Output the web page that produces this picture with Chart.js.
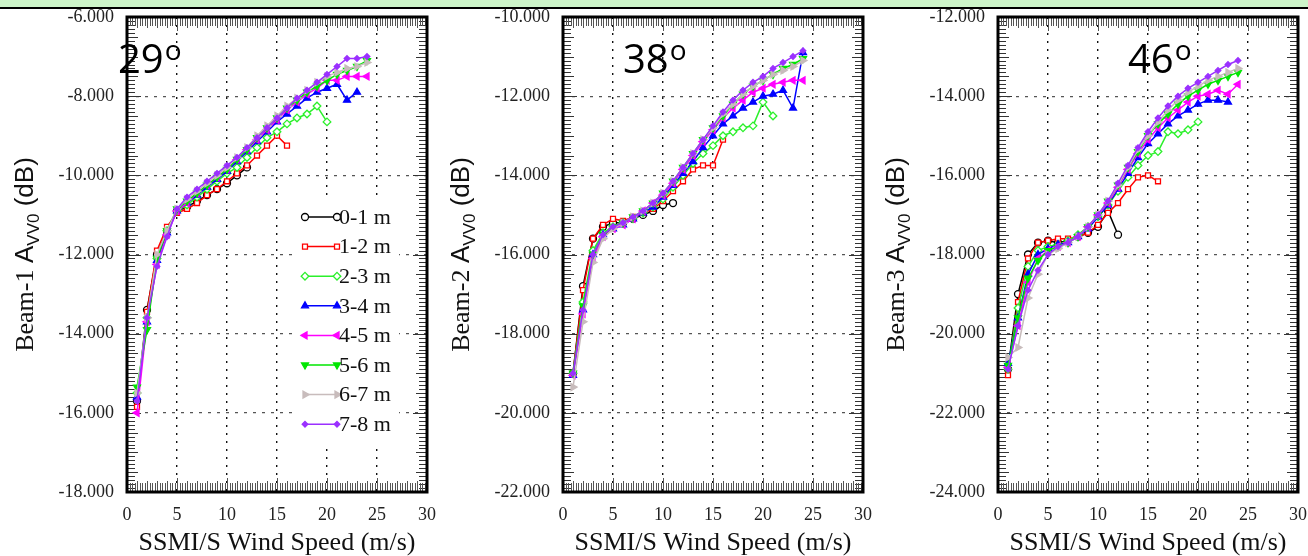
<!DOCTYPE html>
<html><head><meta charset="utf-8">
<script src="https://cdn.jsdelivr.net/npm/chart.js@4.4.1/dist/chart.umd.min.js"></script>
<style>
html,body{margin:0;padding:0;background:#fff;}
body{width:1308px;height:556px;position:relative;overflow:hidden;}
#band{position:absolute;left:0;top:0;width:1308px;height:7px;background:#cdf5c9;border-bottom:2px solid #000;}
.pnl{position:absolute;top:0;width:436px;height:556px;}
</style></head><body>
<div class="pnl" style="left:0px"><canvas id="c1" width="436" height="556"></canvas></div>
<div class="pnl" style="left:436px"><canvas id="c2" width="436" height="556"></canvas></div>
<div class="pnl" style="left:871px"><canvas id="c3" width="436" height="556"></canvas></div>
<div id="band"></div>
<script>
// ---------- data ----------
const windSpeed = [1,2,3,4,5,6,7,8,9,10,11,12,13,14,15,16,17,18,19,20,21,22,23,24];
const heightBins = ['0-1 m','1-2 m','2-3 m','3-4 m','4-5 m','5-6 m','6-7 m','7-8 m'];
const xTickValues = [0,5,10,15,20,25,30];
const beam1Ticks = [-18,-16,-14,-12,-10,-8,-6];
const beam2Ticks = [-22,-20,-18,-16,-14,-12,-10];
const beam3Ticks = [-24,-22,-20,-18,-16,-14,-12];

// Beam-1 (29 deg)
const b1_h01 = [-15.7,-13.4,-12.0,-11.4,-10.9,-10.8,-10.65,-10.5,-10.35,-10.2,-10.0,-9.8];
const b1_h12 = [-15.85,-13.45,-11.9,-11.3,-10.95,-10.85,-10.7,-10.5,-10.35,-10.15,-9.95,-9.75,-9.5,-9.25,-9.0,-9.25];
const b1_h23 = [-15.5,-13.6,-12.1,-11.4,-10.9,-10.75,-10.55,-10.35,-10.15,-9.95,-9.8,-9.55,-9.3,-9.05,-8.9,-8.7,-8.55,-8.45,-8.25,-8.65];
const b1_h34 = [-15.6,-13.7,-12.15,-11.45,-10.9,-10.7,-10.5,-10.3,-10.1,-9.9,-9.65,-9.4,-9.15,-8.9,-8.65,-8.45,-8.25,-8.05,-7.9,-7.8,-7.7,-8.1,-7.9];
const b1_h45 = [-16.0,-13.7,-12.25,-11.5,-10.9,-10.7,-10.45,-10.25,-10.05,-9.85,-9.6,-9.35,-9.1,-8.85,-8.6,-8.35,-8.15,-7.95,-7.8,-7.6,-7.6,-7.5,-7.5,-7.5];
const b1_h56 = [-15.35,-13.9,-12.1,-11.4,-10.85,-10.65,-10.45,-10.25,-10.05,-9.85,-9.6,-9.35,-9.05,-8.8,-8.55,-8.3,-8.1,-7.9,-7.75,-7.6,-7.45,-7.35,-7.25,-7.1];
const b1_h67 = [-15.5,-13.6,-12.0,-11.4,-10.85,-10.6,-10.4,-10.2,-10.0,-9.8,-9.55,-9.3,-9.0,-8.75,-8.5,-8.25,-8.05,-7.85,-7.65,-7.5,-7.4,-7.3,-7.25,-7.15];
const b1_h78 = [-15.7,-13.6,-12.3,-11.55,-10.85,-10.55,-10.35,-10.15,-9.95,-9.75,-9.55,-9.3,-9.05,-8.8,-8.55,-8.3,-8.05,-7.85,-7.65,-7.45,-7.25,-7.05,-7.05,-7.0];

// Beam-2 (38 deg)
const b2_h01 = [-19.0,-16.8,-15.6,-15.3,-15.2,-15.2,-15.1,-15.0,-14.9,-14.75,-14.7];
const b2_h12 = [-19.0,-16.9,-15.6,-15.25,-15.1,-15.15,-15.05,-14.95,-14.85,-14.65,-14.4,-14.15,-13.85,-13.75,-13.75,-13.1];
const b2_h23 = [-19.0,-17.2,-15.9,-15.45,-15.3,-15.2,-15.1,-14.95,-14.8,-14.6,-14.3,-14.0,-13.7,-13.45,-13.25,-13.0,-12.9,-12.8,-12.75,-12.15,-12.5];
const b2_h34 = [-19.05,-17.4,-16.0,-15.5,-15.35,-15.25,-15.1,-14.95,-14.8,-14.55,-14.25,-13.95,-13.65,-13.3,-13.0,-12.7,-12.5,-12.3,-12.15,-12.0,-11.95,-11.85,-12.3,-10.9];
const b2_h45 = [-19.05,-17.5,-16.1,-15.55,-15.35,-15.25,-15.1,-14.9,-14.7,-14.5,-14.2,-13.85,-13.5,-13.15,-12.85,-12.55,-12.3,-12.1,-11.9,-11.8,-11.7,-11.65,-11.6,-11.6];
const b2_h56 = [-19.0,-17.3,-16.0,-15.5,-15.3,-15.2,-15.05,-14.9,-14.7,-14.45,-14.15,-13.8,-13.45,-13.1,-12.8,-12.5,-12.2,-11.95,-11.75,-11.6,-11.45,-11.3,-11.2,-11.05];
const b2_h67 = [-19.35,-17.7,-16.2,-15.6,-15.35,-15.2,-15.05,-14.9,-14.7,-14.45,-14.15,-13.8,-13.45,-13.1,-12.8,-12.45,-12.2,-11.95,-11.75,-11.6,-11.45,-11.35,-11.25,-11.1];
const b2_h78 = [-19.0,-17.4,-16.0,-15.5,-15.3,-15.2,-15.05,-14.9,-14.7,-14.45,-14.15,-13.8,-13.45,-13.1,-12.75,-12.4,-12.1,-11.85,-11.65,-11.5,-11.3,-11.15,-11.0,-10.85];

// Beam-3 (46 deg)
const b3_h01 = [-20.9,-19.0,-18.0,-17.7,-17.65,-17.7,-17.65,-17.55,-17.45,-17.3,-16.9,-17.5];
const b3_h12 = [-21.05,-19.2,-18.1,-17.7,-17.65,-17.6,-17.6,-17.55,-17.45,-17.25,-16.95,-16.7,-16.35,-16.05,-16.0,-16.15];
const b3_h23 = [-20.9,-19.35,-18.3,-17.9,-17.8,-17.75,-17.65,-17.5,-17.3,-17.05,-16.75,-16.4,-16.05,-15.75,-15.5,-15.4,-14.9,-14.95,-14.85,-14.65];
const b3_h34 = [-20.75,-19.6,-18.5,-18.0,-17.85,-17.75,-17.7,-17.55,-17.35,-17.05,-16.75,-16.35,-15.95,-15.55,-15.2,-14.95,-14.7,-14.5,-14.35,-14.2,-14.1,-14.1,-14.15];
const b3_h45 = [-20.85,-19.8,-18.7,-18.1,-17.9,-17.8,-17.7,-17.55,-17.3,-17.0,-16.7,-16.3,-15.85,-15.45,-15.1,-14.8,-14.55,-14.35,-14.15,-14.0,-13.95,-13.85,-13.95,-13.7];
const b3_h56 = [-20.8,-19.6,-18.6,-18.15,-17.9,-17.8,-17.7,-17.55,-17.3,-17.0,-16.65,-16.25,-15.8,-15.4,-15.0,-14.7,-14.45,-14.2,-14.0,-13.85,-13.7,-13.6,-13.5,-13.4];
const b3_h67 = [-20.6,-20.35,-19.1,-18.5,-18.0,-17.85,-17.7,-17.55,-17.3,-17.0,-16.65,-16.25,-15.8,-15.35,-15.0,-14.65,-14.35,-14.1,-13.9,-13.75,-13.6,-13.5,-13.4,-13.3];
const b3_h78 = [-20.9,-19.8,-18.9,-18.4,-18.0,-17.8,-17.7,-17.55,-17.3,-17.0,-16.65,-16.2,-15.75,-15.3,-14.9,-14.55,-14.25,-14.0,-13.8,-13.65,-13.5,-13.35,-13.2,-13.1];

// ---------- styles ----------
const seriesStyles = [
  {color:'#000000', fill:'#ffffff', style:'circle',   rot:0,   r:3.5},
  {color:'#ff0000', fill:'#ffffff', style:'rect',     rot:0,   r:3.5},
  {color:'#2bf02b', fill:'#ffffff', style:'rectRot',  rot:0,   r:3.8},
  {color:'#0000ff', fill:'#0000ff', style:'triangle', rot:0,   r:4},
  {color:'#ff00ff', fill:'#ff00ff', style:'triangle', rot:-90, r:4},
  {color:'#00e600', fill:'#00e600', style:'triangle', rot:180, r:4},
  {color:'#c8bcbc', fill:'#c8bcbc', style:'triangle', rot:90,  r:4},
  {color:'#9b30ff', fill:'#9b30ff', style:'rectRot',  rot:0,   r:2.8}
];

const panels = [
  {id:'c1', angle:'29', beam:'Beam-1', ticks:beam1Ticks, legend:true,
   series:[b1_h01,b1_h12,b1_h23,b1_h34,b1_h45,b1_h56,b1_h67,b1_h78], angleX:118},
  {id:'c2', angle:'38', beam:'Beam-2', ticks:beam2Ticks, legend:false,
   series:[b2_h01,b2_h12,b2_h23,b2_h34,b2_h45,b2_h56,b2_h67,b2_h78], angleX:187},
  {id:'c3', angle:'46', beam:'Beam-3', ticks:beam3Ticks, legend:false,
   series:[b3_h01,b3_h12,b3_h23,b3_h34,b3_h45,b3_h56,b3_h67,b3_h78], angleX:257}
];

function drawMarker(ctx, st, x, y){
  ctx.save();
  ctx.fillStyle = st.fill; ctx.strokeStyle = st.color; ctx.lineWidth = 1.3;
  Chart.helpers.drawPoint(ctx, {pointStyle:st.style, rotation:st.rot, radius:st.r, borderWidth:1.3}, x, y);
  ctx.restore();
}

const decor = {
  id:'decor',
  beforeDatasetsDraw(chart, args, o){
    const ctx = chart.ctx, a = chart.chartArea;
    const xs = chart.scales.x, ys = chart.scales.y;
    ctx.save();
    ctx.strokeStyle = '#333'; ctx.lineWidth = 1;
    const ymin = ys.min, ymax = ys.max;
    for (let k = 0; k <= Math.round((ymax-ymin)*10); k++){
      const v = ymin + k/10, py = Math.round(ys.getPixelForValue(v)) + 0.5;
      let len = 8;
      if (k % 5 === 0) len = 11;
      if (k % 20 === 0) len = 14;
      ctx.beginPath();
      ctx.moveTo(a.left, py); ctx.lineTo(a.left+len, py);
      ctx.moveTo(a.right, py); ctx.lineTo(a.right-len, py);
      ctx.stroke();
    }
    ctx.strokeStyle = '#555';
    for (let k = 0; k <= 120; k++){
      const v = k*0.25, px = Math.round(xs.getPixelForValue(v)) + 0.5;
      let len = 9;
      if (k % 4 === 0) len = 11;
      if (k % 20 === 0) len = 14;
      ctx.beginPath();
      ctx.moveTo(px, a.bottom); ctx.lineTo(px, a.bottom-len);
      ctx.moveTo(px, a.top); ctx.lineTo(px, a.top+len);
      ctx.stroke();
    }
    if (o.legend){
      ctx.fillStyle = '#fff';
      ctx.fillRect(293, 196, 106, 250);
      ctx.font = '22px "Liberation Serif"';
      ctx.textBaseline = 'middle'; ctx.textAlign = 'left';
      heightBins.forEach((lab, i) => {
        const st = seriesStyles[i], y = 217 + 29.6*i;
        ctx.strokeStyle = st.color; ctx.lineWidth = 1.5;
        ctx.beginPath(); ctx.moveTo(305, y); ctx.lineTo(338, y); ctx.stroke();
        drawMarker(ctx, st, 305, y); drawMarker(ctx, st, 337, y);
        ctx.fillStyle = '#111';
        ctx.fillText(lab, 339, y+1);
      });
    }
    ctx.restore();
  },
  afterDatasetsDraw(chart, args, o){
    const ctx = chart.ctx, a = chart.chartArea;
    ctx.save();
    ctx.strokeStyle = '#000'; ctx.lineWidth = 3;
    ctx.strokeRect(a.left, a.top, a.right-a.left, a.bottom-a.top);
    ctx.restore();
  },
  afterDraw(chart, args, o){
    const ctx = chart.ctx, a = chart.chartArea;
    ctx.save();
    ctx.fillStyle = '#111';
    ctx.font = '26px "Liberation Serif"';
    ctx.textAlign = 'center'; ctx.textBaseline = 'alphabetic';
    ctx.fillText('SSMI/S Wind Speed (m/s)', (a.left+a.right)/2, 550);
    const segs = [
      {t:o.beam+' ', f:'26px "Liberation Serif"', dy:0},
      {t:'A', f:'26px "Liberation Sans"', dy:0},
      {t:'VV0', f:'17px "Liberation Sans"', dy:6},
      {t:' (dB)', f:'26px "Liberation Sans"', dy:0}
    ];
    let total = 0;
    segs.forEach(s => { ctx.font = s.f; s.w = ctx.measureText(s.t).width; total += s.w; });
    ctx.translate(33, (a.top+a.bottom)/2);
    ctx.rotate(-Math.PI/2);
    ctx.textAlign = 'left';
    let x = -total/2;
    segs.forEach(s => { ctx.font = s.f; ctx.fillText(s.t, x, s.dy); x += s.w; });
    ctx.restore();
    ctx.save();
    ctx.fillStyle = '#000';
    ctx.textBaseline = 'alphabetic'; ctx.textAlign = 'left';
    ctx.font = '40px "Open Sans"';
    ctx.fillText(o.angle, o.angleX, 73);
    const w = ctx.measureText(o.angle).width;
    ctx.font = '28px "Open Sans"';
    ctx.fillText('o', o.angleX + w + 1, 60);
    ctx.restore();
  }
};

panels.forEach(p => {
  const datasets = p.series.map((arr, i) => {
    const st = seriesStyles[i];
    return {
      label: heightBins[i],
      data: arr.map((v, j) => ({x: windSpeed[j], y: v})),
      borderColor: st.color, backgroundColor: st.fill,
      pointBackgroundColor: st.fill, pointBorderColor: st.color,
      pointStyle: st.style, pointRotation: st.rot, pointRadius: st.r,
      pointBorderWidth: 1.3, borderWidth: 1.5, tension: 0, fill: false,
      order: 7 - i
    };
  });
  new Chart(document.getElementById(p.id), {
    type: 'line',
    data: {datasets},
    options: {
      responsive: false, animation: false, devicePixelRatio: 1,
      layout: {padding: {left: 0, right: 9, top: 17, bottom: 0}},
      plugins: {legend: {display: false}, tooltip: {enabled: false},
        decor: {legend: p.legend, beam: p.beam, angle: p.angle, angleX: p.angleX}},
      scales: {
        x: {type: 'linear', min: xTickValues[0], max: xTickValues[xTickValues.length-1],
          afterBuildTicks: s => { s.ticks = xTickValues.map(v => ({value: v})); },
          ticks: {font: {family: 'Liberation Serif', size: 18}, color: '#222', padding: 12, maxRotation: 0,
            callback: v => String(v)},
          grid: {color: '#111', lineWidth: 1.4, drawTicks: false},
          border: {display: false, dash: [2, 6]},
          afterFit: s => { s.height = 64; s.paddingLeft = 0; s.paddingRight = 0; }},
        y: {type: 'linear', min: p.ticks[0], max: p.ticks[p.ticks.length-1],
          afterBuildTicks: s => { s.ticks = p.ticks.map(v => ({value: v})); },
          ticks: {font: {family: 'Liberation Serif', size: 18}, color: '#222', padding: 13,
            callback: v => Number(v).toFixed(3)},
          grid: {color: '#555', lineWidth: 1.3, drawTicks: false},
          border: {display: false, dash: [3, 6]},
          afterFit: s => { s.width = 127; s.paddingTop = 0; s.paddingBottom = 0; }}
      }
    },
    plugins: [decor]
  });
});
</script>
</body></html>
